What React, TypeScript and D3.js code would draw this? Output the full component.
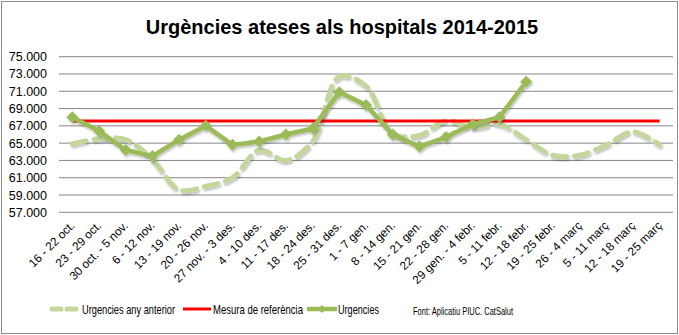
import React from "react";
import * as d3 from "d3";

const categories = [
  "16 - 22 oct.", "23 - 29 oct.", "30 oct. - 5 nov.", "6 - 12 nov.", "13 - 19 nov.",
  "20 - 26 nov.", "27 nov. - 3 des.", "4 - 10 des.", "11 - 17 des.", "18 - 24 des.",
  "25 - 31 des.", "1 - 7 gen.", "8 - 14 gen.", "15 - 21 gen.", "22 - 28 gen.",
  "29 gen. - 4 febr.", "5 - 11 febr.", "12 - 18 febr.", "19 - 25 febr.", "26 - 4 març",
  "5 - 11 març", "12 - 18 març", "19 - 25 març",
];

const previousYear = [
  64.9, 65.5, 65.4, 63.1, 59.6, 60.0, 61.0, 64.2, 63.0, 65.2, 72.7, 71.6,
  66.1, 65.9, 67.6, 66.8, 67.2, 65.4, 63.6, 63.6, 64.8, 66.3, 64.8,
];

const urgencies = [
  68.0, 66.4, 64.2, 63.5, 65.4, 67.0, 64.8, 65.2, 66.0, 66.7, 70.9, 69.4,
  66.0, 64.6, 65.7, 67.2, 68.0, 72.1,
];

const reference = 67.55;

const yTicks = [57, 59, 61, 63, 65, 67, 69, 71, 73, 75];

const W = 679;
const H = 335;
const left = 59;
const right = 673;
const top = 56.7;
const bottom = 212.3;

const fmt = (v: number) => v.toFixed(3);

export default function App() {
  const x = d3.scaleBand<string>().domain(categories).range([left, right]).padding(0);
  const cx = (i: number) => (x(categories[i]) as number) + x.bandwidth() / 2;
  const y = d3.scaleLinear().domain([57, 75]).range([bottom, top]);

  const smooth = d3
    .line<number>()
    .x((_, i) => cx(i))
    .y((d) => y(d))
    .curve(d3.curveCatmullRom.alpha(0.5));
  const straight = d3
    .line<number>()
    .x((_, i) => cx(i))
    .y((d) => y(d));

  const dashColor = "#c3d69b";
  const green = "#9bbb59";
  const font = "'Liberation Sans', Arial, sans-serif";

  const diamond = (px: number, py: number, r: number) =>
    `M${px},${py - r}L${px + r},${py}L${px},${py + r}L${px - r},${py}Z`;

  return (
    <svg
      width={W}
      height={H}
      style={{ position: "absolute", left: 0, top: 0, background: "#fff" }}
      fontFamily={font}
    >
      <defs>
        <filter id="sh" x="-20%" y="-20%" width="140%" height="140%">
          <feDropShadow dx="1" dy="2" stdDeviation="1.2" floodColor="#000" floodOpacity="0.25" />
        </filter>
      </defs>
      <rect x={1.5} y={1.5} width={W - 3} height={H - 3} fill="#fff" stroke="#8c8c8c" strokeWidth={1} />
      <text x={342} y={34} textAnchor="middle" fontSize={20} fontWeight="bold" fill="#000">
        Urgències ateses als hospitals 2014-2015
      </text>

      {yTicks.map((t) => (
        <g key={t}>
          <line x1={left} x2={right} y1={y(t)} y2={y(t)} stroke="#868686" strokeWidth={1} />
          <text x={47} y={y(t) + 4.5} textAnchor="end" fontSize={12.5} fill="#000">
            {fmt(t)}
          </text>
        </g>
      ))}

      {categories.map((c, i) => (
        <text
          key={c}
          transform={`translate(${cx(i) + 3},${bottom + 14}) rotate(-45)`}
          textAnchor="end"
          fontSize={11.8}
          fill="#000"
        >
          {c}
        </text>
      ))}

      <path
        d={smooth(previousYear) || ""}
        fill="none"
        stroke={dashColor}
        strokeWidth={5}
        strokeDasharray="14 8"
        strokeLinecap="round"
        filter="url(#sh)"
      />
      <line
        x1={cx(0)}
        x2={cx(categories.length - 1)}
        y1={y(reference)}
        y2={y(reference)}
        stroke="#ff0000"
        strokeWidth={3}
      />
      <g filter="url(#sh)">
        <path d={straight(urgencies) || ""} fill="none" stroke={green} strokeWidth={4.5} strokeLinejoin="round" />
        {urgencies.map((v, i) => (
          <path key={i} d={diamond(cx(i), y(v), 6)} fill={green} />
        ))}
      </g>

      <g fontSize={13} fill="#000">
        <line x1={52} x2={76} y1={309} y2={309} stroke={dashColor} strokeWidth={5} strokeDasharray="9 6" strokeLinecap="round" />
        <text x={82} y={313.5} textLength={93} lengthAdjust="spacingAndGlyphs">Urgencies any anterior</text>
        <line x1={183} x2={211} y1={309} y2={309} stroke="#ff0000" strokeWidth={3} />
        <text x={213} y={313.5} textLength={90} lengthAdjust="spacingAndGlyphs">Mesura de referència</text>
        <line x1={307} x2={337} y1={309} y2={309} stroke={green} strokeWidth={4.5} />
        <path d={diamond(322, 309, 4)} fill={green} />
        <text x={338} y={313.5} textLength={41} lengthAdjust="spacingAndGlyphs">Urgencies</text>
      </g>
      <text x={413} y={315} fontSize={10.5} fill="#000" textLength={100} lengthAdjust="spacingAndGlyphs">
        Font: Aplicatiu PIUC. CatSalut
      </text>
    </svg>
  );
}
